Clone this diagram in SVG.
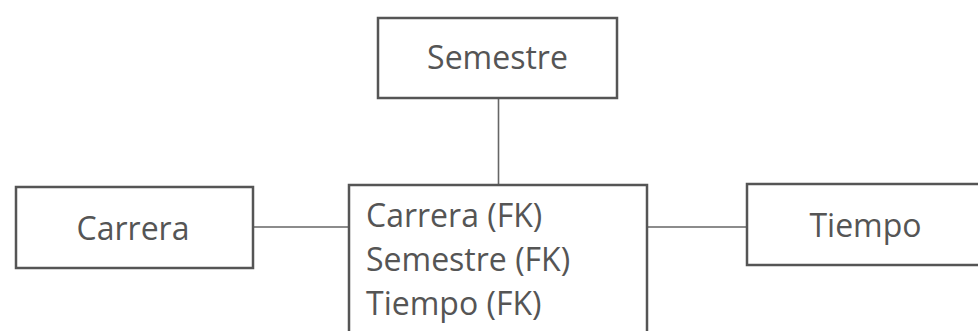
<svg xmlns="http://www.w3.org/2000/svg" width="978" height="331" viewBox="0 0 978 331">
  <style>
    .box { fill: #ffffff; stroke: #555555; stroke-width: 2.5; }
    .conn { stroke: #666666; stroke-width: 1.6; fill: none; }
    .lbl { font-family: "Open Sans", "Liberation Sans", sans-serif; font-size: 32px; fill: #555555; }
  </style>
  <rect width="978" height="331" fill="#ffffff"/>
  <g id="connectors">
    <line class="conn" x1="498.5" y1="98" x2="498.5" y2="185"/>
    <line class="conn" x1="253" y1="227" x2="349" y2="227"/>
    <line class="conn" x1="647" y1="227" x2="747" y2="227"/>
  </g>
  <g id="node-semestre">
    <rect class="box" x="378" y="18" width="239" height="80"/>
    <text class="lbl" x="497.5" y="69" text-anchor="middle">Semestre</text>
  </g>
  <g id="node-carrera">
    <rect class="box" x="16" y="187" width="237" height="81"/>
    <text class="lbl" x="133" y="240" text-anchor="middle">Carrera</text>
  </g>
  <g id="node-hechos">
    <rect class="box" x="349" y="185" width="298" height="160"/>
    <text class="lbl" x="366" y="227">Carrera (FK)</text>
    <text class="lbl" x="366" y="271">Semestre (FK)</text>
    <text class="lbl" x="366" y="315">Tiempo (FK)</text>
  </g>
  <g id="node-tiempo">
    <rect class="box" x="747" y="184" width="250" height="81"/>
    <text class="lbl" x="865.5" y="237" text-anchor="middle">Tiempo</text>
  </g>
</svg>
